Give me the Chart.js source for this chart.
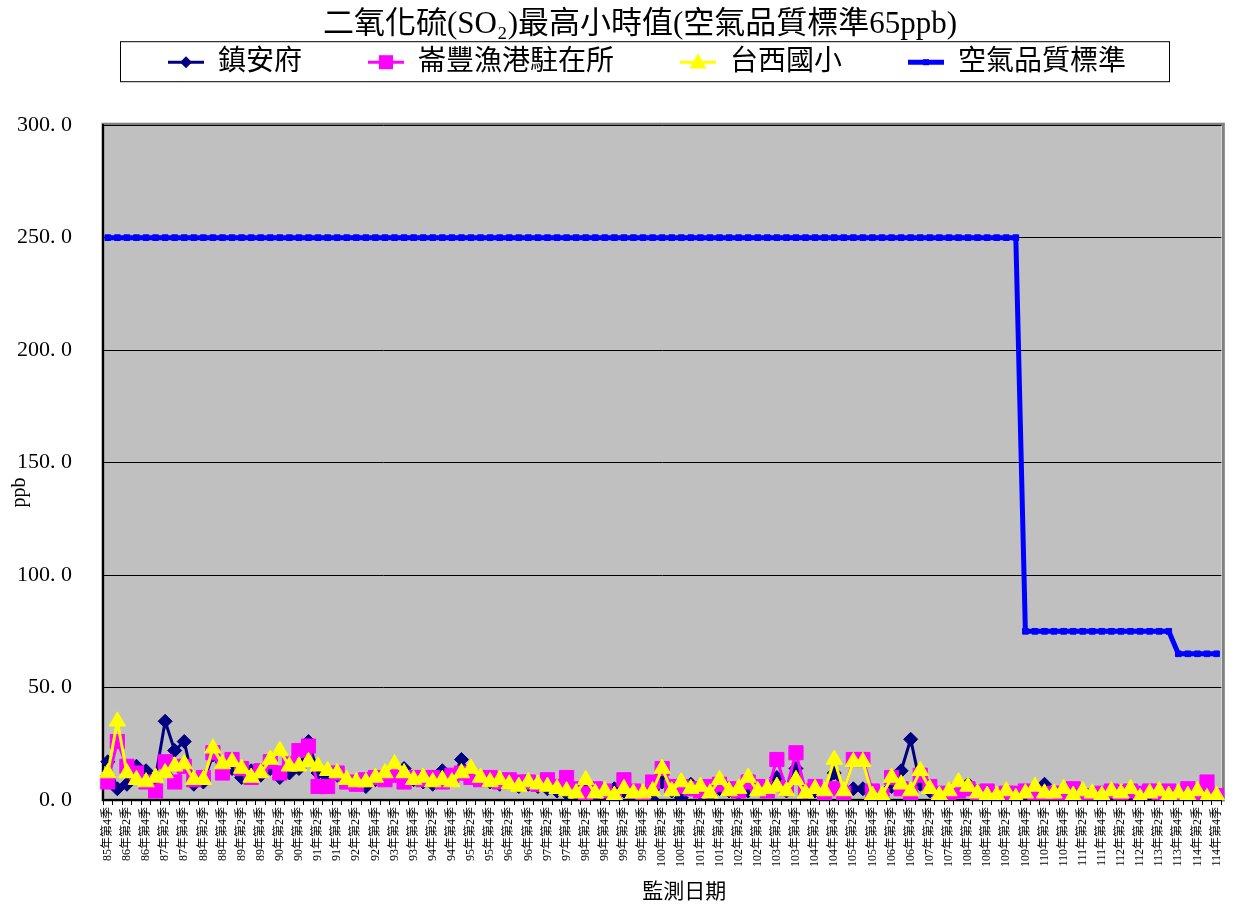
<!DOCTYPE html>
<html>
<head>
<meta charset="utf-8">
<script src="https://cdn.jsdelivr.net/npm/chart.js@4/dist/chart.umd.min.js"></script>
<style>
  html, body { margin: 0; padding: 0; background: #fff; }
  #box { width: 1233px; height: 906px; }
</style>
</head>
<body>
<div id="box"><canvas id="graphCanvas"></canvas></div>
<script>
const FONT = "'Liberation Serif', 'Noto Sans CJK TC', serif";

// quarters 85年第4季 .. 114年第4季
const quarters = [];
for (let y = 85; y <= 114; y++) {
    for (let q = 1; q <= 4; q++) {
        if (y === 85 && q < 4) continue;
        quarters.push(y + "年第" + q + "季");
    }
}

const zhenAnFu = [
    17, 5, 7, 15, 13, 10, 35, 22, 26, 7,
    8, 20, 12, 14, 10, 13, 11, 14, 10, 12,
    14, 26, 12, 10, 11, 9, 7, 6, 9, 10,
    12, 14, 9, 8, 7, 13, 9, 18, 10, 9,
    8, 7, 8, 6, 7, 6, 5, 4, 3, 3,
    4, 2, 3, 5, 4, 1, 2, 0, 8, 4,
    1, 7, 3, 2, 5, 4, 3, 4, 5, 4,
    10, 4, 14, 3, 4, 3, 12, 4, 5, 5,
    3, 2, 6, 13, 27, 7, 4, 3, 4, 7,
    7, 4, 3, 2, 2, 3, 3, 4, 7, 3,
    2, 3, 2, 2, 1, 2, 4, 2, 3, 2,
    3, 2, 2, 5, 3, 2, 1
];
const lunFeng = [
    8, 26, 15, 12, 8, 4, 17, 8, 15, 9,
    10, 21, 12, 18, 14, 10, 13, 17, 12, 16,
    22, 24, 6, 6, 12, 8, 7, 9, 10, 9,
    11, 8, 10, 9, 10, 8, 11, 12, 10, 9,
    10, 8, 9, 8, 8, 7, 9, 6, 10, 5,
    3, 5, 4, 1, 9, 4, 2, 8, 14, 6,
    6, 5, 4, 6, 7, 5, 4, 8, 6, 4,
    18, 5, 21, 4, 6, 3, 5, 3, 18, 18,
    4, 2, 10, 5, 3, 11, 6, 3, 2, 4,
    5, 3, 4, 2, 3, 3, 4, 3, 2, 3,
    3, 5, 2, 1, 3, 4, 2, 4, 3, 4,
    2, 4, 1, 5, 3, 8, 2
];
const taiXi = [
    12, 35, 12, 9, 8, 10, 12, 15, 16, 9,
    9, 23, 16, 17, 14, 10, 12, 18, 22, 15,
    15, 17, 15, 13, 12, 9, 8, 8, 10, 12,
    16, 12, 9, 10, 8, 9, 8, 12, 14, 10,
    8, 9, 7, 6, 8, 7, 6, 5, 4, 3,
    9, 3, 4, 2, 5, 3, 3, 4, 14, 4,
    8, 5, 6, 3, 9, 4, 5, 10, 4, 5,
    6, 4, 9, 3, 5, 4, 18, 4, 17, 17,
    2, 2, 10, 7, 4, 13, 5, 2, 4, 8,
    6, 3, 2, 2, 4, 1, 3, 6, 3, 3,
    5, 2, 4, 3, 2, 4, 3, 5, 1, 3,
    4, 2, 3, 2, 4, 1, 2
];
const standard = [
    250, 250, 250, 250, 250, 250, 250, 250, 250, 250,
    250, 250, 250, 250, 250, 250, 250, 250, 250, 250,
    250, 250, 250, 250, 250, 250, 250, 250, 250, 250,
    250, 250, 250, 250, 250, 250, 250, 250, 250, 250,
    250, 250, 250, 250, 250, 250, 250, 250, 250, 250,
    250, 250, 250, 250, 250, 250, 250, 250, 250, 250,
    250, 250, 250, 250, 250, 250, 250, 250, 250, 250,
    250, 250, 250, 250, 250, 250, 250, 250, 250, 250,
    250, 250, 250, 250, 250, 250, 250, 250, 250, 250,
    250, 250, 250, 250, 250, 250, 75, 75, 75, 75,
    75, 75, 75, 75, 75, 75, 75, 75, 75, 75,
    75, 75, 65, 65, 65, 65, 65
];

const yTicks = [0, 50, 100, 150, 200, 250, 300];
const xTitle = "監測日期";
const yTitle = "ppb";

// plot area fill + border
const plotBg = {
    id: "plotBg",
    beforeDraw(chart) {
        const c = chart.ctx, a = chart.chartArea;
        c.save();
        c.fillStyle = "#fff";
        c.fillRect(0, 0, chart.width, chart.height);
        c.fillStyle = "#C0C0C0";
        c.fillRect(a.left, a.top, a.right - a.left, a.bottom - a.top);
        c.strokeStyle = "#808080";
        c.lineWidth = 3;
        c.strokeRect(a.left, a.top - 1, a.right - a.left + 2, a.bottom - a.top + 1);
        c.restore();
    }
};

// axis titles, placed where the original sheet has them
const axisTitles = {
    id: "axisTitles",
    afterDraw(chart) {
        const c = chart.ctx, a = chart.chartArea;
        c.save();
        c.fillStyle = "#000";
        c.textAlign = "center";
        c.textBaseline = "middle";
        c.font = "21px " + FONT;
        c.fillText(xTitle, a.left + (a.right - a.left) / 2 + 22, 892);
        c.translate(20, a.top + (a.bottom - a.top) / 2 + 30);
        c.rotate(-Math.PI / 2);
        c.font = "20px " + FONT;
        c.fillText(yTitle, 0, 0);
        c.restore();
    }
};

// extra room under the legend, and nudge title/legend right like the sheet
const topBlocks = {
    id: "topBlocks",
    afterInit(chart) {
        const lg = chart.legend;
        const fit = lg.fit.bind(lg);
        lg.fit = function () { fit(); this.height += 39; };
    },
    afterLayout(chart) {
        chart.titleBlock.left += 27;
        chart.titleBlock.right += 27;
        chart.legend.left += 10;
        chart.legend.right += 10;
    }
};

function drawMarker(c, style, x, y, r) {
    c.beginPath();
    if (style === "rectRot") {
        c.moveTo(x - r, y); c.lineTo(x, y - r); c.lineTo(x + r, y); c.lineTo(x, y + r);
    } else if (style === "rect") {
        c.rect(x - r, y - r, 2 * r, 2 * r);
    } else {
        c.moveTo(x, y - r); c.lineTo(x + r * 0.95, y + r * 0.7); c.lineTo(x - r * 0.95, y + r * 0.7);
    }
    c.closePath();
    c.fill();
}

// legend line + marker and frame
const legendMarks = {
    id: "legendMarks",
    afterDraw(chart) {
        const c = chart.ctx;
        const boxes = chart.legend.legendHitBoxes;
        if (!boxes || !boxes.length) return;
        const bw = chart.options.plugins.legend.labels.boxWidth;
        const marks = [
            { style: "rectRot", r: 6, lw: 3 },
            { style: "rect", r: 7, lw: 3 },
            { style: "tri", r: 9, lw: 3 },
            { style: "rect", r: 3, lw: 5 }
        ];
        c.save();
        boxes.forEach((hb, i) => {
            const ds = chart.data.datasets[i];
            const cx = hb.left + bw - 18, cy = hb.top + hb.height / 2;
            c.strokeStyle = ds.borderColor;
            c.fillStyle = ds.backgroundColor;
            c.lineWidth = marks[i].lw;
            c.beginPath();
            c.moveTo(cx - 18, cy); c.lineTo(cx + 18, cy);
            c.stroke();
            drawMarker(c, marks[i].style, cx, cy, marks[i].r);
        });
        const first = boxes[0], last = boxes[boxes.length - 1];
        const x0 = first.left + bw - 36 - 48, x1 = last.left + last.width + 43;
        const cy = first.top + first.height / 2;
        c.strokeStyle = "#000";
        c.lineWidth = 1;
        c.strokeRect(x0 + 0.5, cy - 20.5, x1 - x0, 40);
        c.restore();
    }
};

function series(label, data, color, style, radius, width, order) {
    return {
        label: label,
        data: data,
        borderColor: color,
        backgroundColor: color,
        pointBackgroundColor: color,
        pointBorderColor: color,
        pointStyle: style,
        pointRadius: radius,
        pointHoverRadius: radius,
        pointBorderWidth: 1,
        borderWidth: width,
        tension: 0,
        order: order
    };
}

const chart_data = {
    labels: quarters,
    datasets: [
        series("鎮安府", zhenAnFu, "#000080", "rectRot", 7, 3, 4),
        series("崙豐漁港駐在所", lunFeng, "#FF00FF", "rect", 10, 3, 3),
        series("台西國小", taiXi, "#FFFF00", "triangle", 9.5, 3, 2),
        series("空氣品質標準", standard, "#0000FF", "rect", 4, 5, 1)
    ]
};

const config = {
    type: "line",
    data: chart_data,
    plugins: [plotBg, topBlocks, legendMarks, axisTitles],
    options: {
        responsive: true,
        maintainAspectRatio: false,
        animation: false,
        layout: { padding: { left: 0, right: 7, top: 0, bottom: 0 } },
        plugins: {
            title: {
                display: true,
                text: "二氧化硫(SO₂)最高小時值(空氣品質標準65ppb)",
                color: "#000",
                font: { family: FONT, size: 31, weight: "normal" },
                padding: { top: 6, bottom: -13 }
            },
            legend: {
                display: true,
                position: "top",
                labels: {
                    color: "#000",
                    font: { family: FONT, size: 28 },
                    boxWidth: 84,
                    boxHeight: 20,
                    padding: 18,
                    generateLabels(chart) {
                        return chart.data.datasets.map((ds, i) => ({
                            text: ds.label,
                            fillStyle: "rgba(0,0,0,0)",
                            strokeStyle: "rgba(0,0,0,0)",
                            lineWidth: 0,
                            fontColor: "#000",
                            hidden: false,
                            datasetIndex: i
                        }));
                    }
                }
            },
            tooltip: { enabled: false }
        },
        scales: {
            x: {
                type: "category",
                offset: true,
                grid: {
                    offset: true,
                    drawOnChartArea: false,
                    drawTicks: true,
                    tickLength: 5,
                    color: "#000"
                },
                border: { display: true, color: "#000", width: 2 },
                ticks: {
                    autoSkip: false,
                    maxRotation: 90,
                    minRotation: 90,
                    padding: 2,
                    color: "#000",
                    font: { family: FONT, size: 12 },
                    callback: function (v, i) { return i % 2 === 0 ? this.getLabelForValue(v) : ""; }
                },
                title: { display: false },
                afterFit(scale) { scale.height = 106; }
            },
            y: {
                min: 0,
                max: 300,
                afterBuildTicks(scale) { scale.ticks = yTicks.map(v => ({ value: v })); },
                grid: { color: "#000", lineWidth: 1, drawTicks: false },
                border: { display: true, color: "#000", width: 2 },
                ticks: {
                    padding: 31,
                    color: "#000",
                    font: { family: FONT, size: 22 },
                    callback: v => v.toFixed(1).replace(".", ". ")
                },
                title: { display: false },
                afterFit(scale) { scale.width = 103; }
            }
        }
    }
};

let chart = null;
function startChart() {
    const ctx = document.getElementById("graphCanvas").getContext("2d");
    chart = new Chart(ctx, config);
}
startChart();
</script>
</body>
</html>
